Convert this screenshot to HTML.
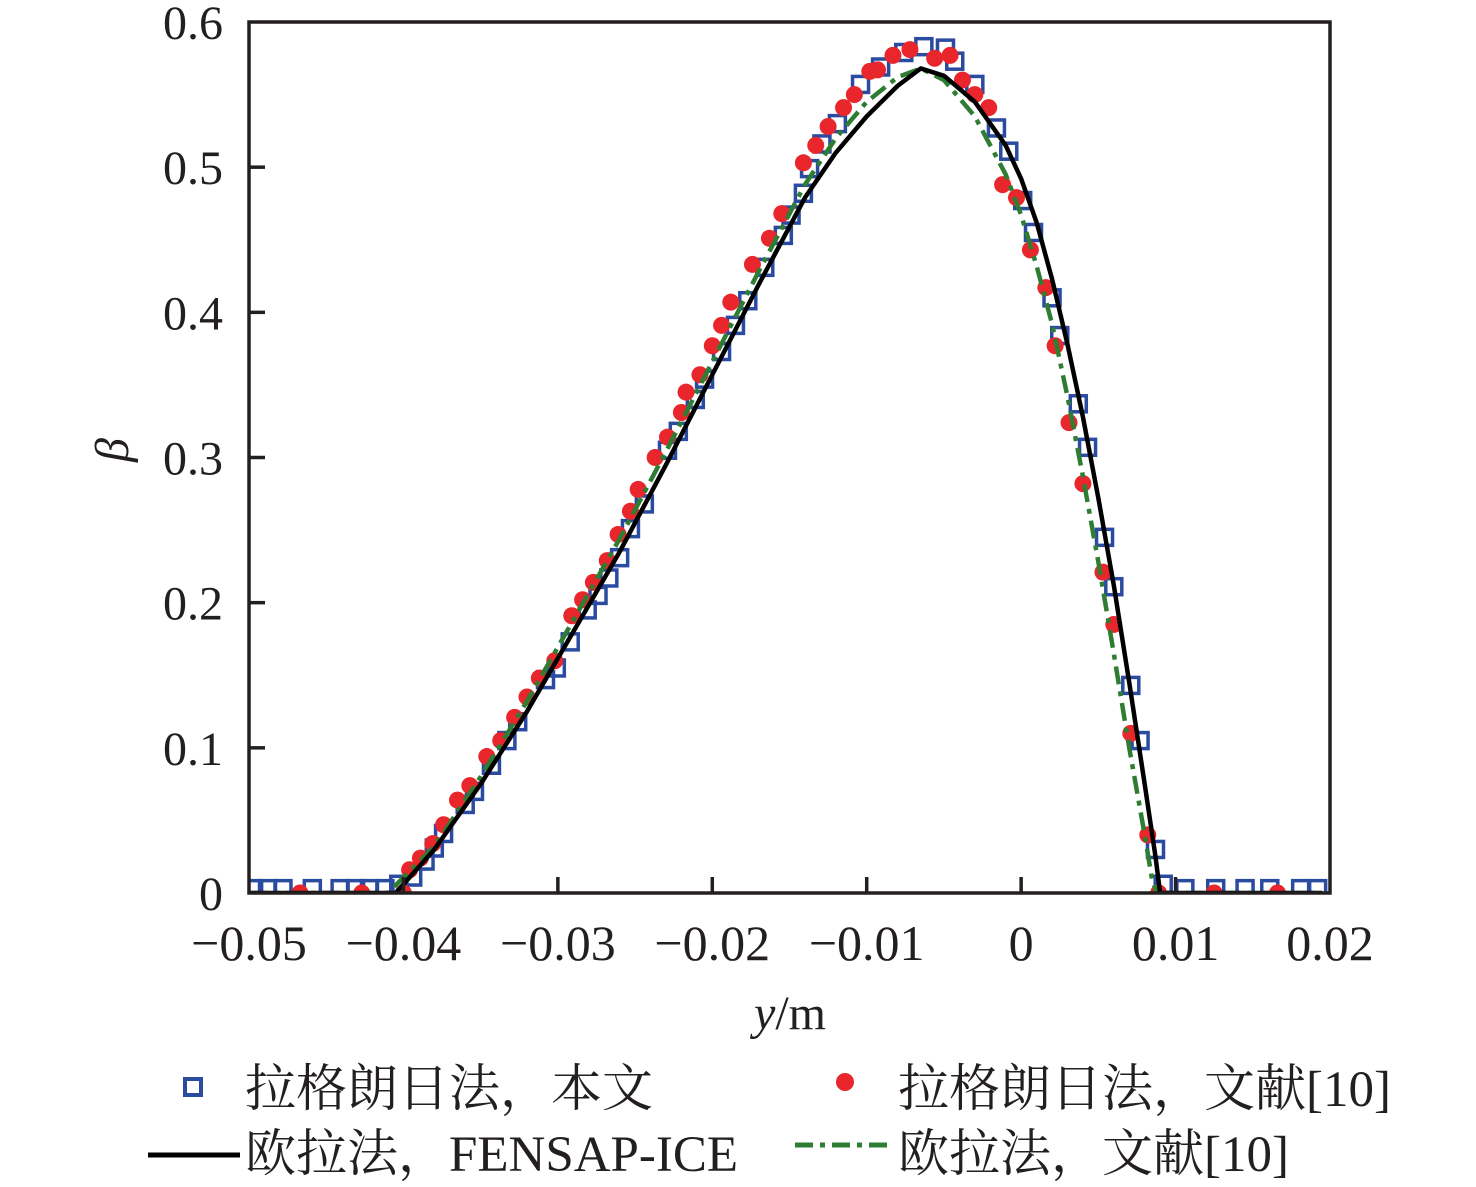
<!DOCTYPE html>
<html><head><meta charset="utf-8"><style>
html,body{margin:0;padding:0;background:#fff;}
svg{display:block;}
text{font-family:"Liberation Serif","Noto Serif CJK SC",serif;fill:#231f20;}
</style></head><body>
<svg id="chart" width="1476" height="1187" viewBox="0 0 1476 1187">
<defs><clipPath id="pc"><rect x="249" y="22" width="1081" height="871"/></clipPath></defs>
<g id="series" clip-path="url(#pc)"></g>
<g id="axes"></g>
<g id="legend">
  <rect x="185" y="1079" width="16" height="16" fill="none" stroke="#2b4ba0" stroke-width="4"/>
  <text x="245" y="1106" font-size="51">拉格朗日法，本文</text>
  <circle cx="845" cy="1082" r="9" fill="#e8262b"/>
  <text x="898" y="1106" font-size="51">拉格朗日法，文献[10]</text>
  <line x1="148" y1="1155" x2="240" y2="1155" stroke="#000" stroke-width="5"/>
  <text x="245" y="1171" font-size="51">欧拉法，FENSAP-ICE</text>
  <line x1="795" y1="1145" x2="893" y2="1145" stroke="#2e7d32" stroke-width="5" stroke-dasharray="18 7 5 7"/>
  <text x="898" y="1171" font-size="51">欧拉法，文献[10]</text>
</g>
</svg>
<script>
const xTicks=[-0.05,-0.04,-0.03,-0.02,-0.01,0,0.01,0.02];
const xTickLabels=["−0.05","−0.04","−0.03","−0.02","−0.01","0","0.01","0.02"];
const yTicks=[0,0.1,0.2,0.3,0.4,0.5,0.6];
const yTickLabels=["0","0.1","0.2","0.3","0.4","0.5","0.6"];
const blackX=[-0.05,-0.0405,-0.038,-0.035,-0.032,-0.029,-0.026,-0.023,-0.020,-0.017,-0.014,-0.012,-0.010,-0.008,-0.0065,-0.005,-0.003,-0.001,0,0.001,0.002,0.003,0.004,0.005,0.006,0.007,0.008,0.0087,0.0090,0.0195];
const blackY=[0,0,0.03,0.075,0.125,0.18,0.235,0.295,0.357,0.419,0.479,0.51,0.535,0.556,0.568,0.563,0.545,0.515,0.492,0.462,0.423,0.378,0.328,0.272,0.212,0.145,0.075,0.025,0,0];
const greenX=[-0.05,-0.041,-0.038,-0.035,-0.032,-0.029,-0.026,-0.023,-0.020,-0.017,-0.014,-0.012,-0.010,-0.008,-0.0065,-0.005,-0.003,-0.001,0,0.001,0.002,0.003,0.004,0.005,0.006,0.007,0.008,0.0085,0.0088,0.0195];
const greenY=[0,0,0.032,0.08,0.132,0.188,0.244,0.304,0.366,0.428,0.488,0.52,0.545,0.562,0.568,0.56,0.535,0.495,0.467,0.432,0.392,0.342,0.287,0.228,0.165,0.10,0.04,0.008,0,0];
const squareX=[-0.0497,-0.0488,-0.0478,-0.0459,-0.0441,-0.0431,-0.0422,-0.0412,-0.0403,-0.0394,-0.0386,-0.0380,-0.0374,-0.0360,-0.0354,-0.0343,-0.0333,-0.0326,-0.0308,-0.0301,-0.0292,-0.0281,-0.0274,-0.0267,-0.0260,-0.0253,-0.0244,-0.0229,-0.0222,-0.0211,-0.0205,-0.0194,-0.0185,-0.0177,-0.0166,-0.0154,-0.0149,-0.0141,-0.0137,-0.0129,-0.0119,-0.0104,-0.0091,-0.0076,-0.0063,-0.0049,-0.0043,-0.0030,-0.0016,-0.0008,0.0001,0.0008,0.0020,0.0025,0.0037,0.0043,0.0054,0.0060,0.0071,0.0077,0.0087,0.0092,0.0106,0.0126,0.0145,0.0161,0.0181,0.0192];
const squareY=[0.003,0.003,0.003,0.003,0.003,0.003,0.003,0.003,0.006,0.011,0.022,0.031,0.041,0.061,0.070,0.088,0.105,0.118,0.147,0.155,0.173,0.195,0.205,0.217,0.231,0.251,0.268,0.305,0.318,0.340,0.354,0.373,0.391,0.408,0.431,0.453,0.467,0.482,0.499,0.516,0.530,0.557,0.569,0.579,0.583,0.582,0.573,0.557,0.527,0.511,0.477,0.455,0.410,0.384,0.337,0.307,0.245,0.211,0.143,0.105,0.030,0.006,0.003,0.003,0.003,0.003,0.003,0.003];
const dotX=[-0.0467,-0.0427,-0.0400,-0.0396,-0.0389,-0.0381,-0.0374,-0.0365,-0.0357,-0.0346,-0.0337,-0.0328,-0.0320,-0.0312,-0.0302,-0.0291,-0.0284,-0.0277,-0.0268,-0.0261,-0.0253,-0.0248,-0.0237,-0.0229,-0.0220,-0.0217,-0.0208,-0.0200,-0.0194,-0.0188,-0.0174,-0.0163,-0.0155,-0.0141,-0.0133,-0.0125,-0.0115,-0.0108,-0.0098,-0.0093,-0.0083,-0.0072,-0.0056,-0.0046,-0.0038,-0.0030,-0.0021,-0.0012,-0.0003,0.0006,0.0016,0.0022,0.0031,0.0040,0.0053,0.0060,0.0071,0.0082,0.0089,0.0125,0.0166];
const dotY=[0,0,0,0.016,0.024,0.034,0.047,0.064,0.074,0.094,0.105,0.121,0.135,0.148,0.160,0.191,0.202,0.214,0.229,0.247,0.263,0.278,0.300,0.314,0.331,0.345,0.357,0.377,0.391,0.407,0.433,0.451,0.468,0.503,0.515,0.528,0.541,0.550,0.566,0.567,0.577,0.581,0.575,0.577,0.560,0.550,0.541,0.488,0.479,0.443,0.417,0.377,0.324,0.282,0.221,0.185,0.110,0.040,0,0,0];

const NS="http://www.w3.org/2000/svg";
const X0=249,X1=1330,Y0=893,Y1=22;
function sx(v){return X0+(v+0.05)/0.07*(X1-X0);}
function sy(v){return Y0-v/0.6*(Y0-Y1);}
function mk(tag,attrs,parent){const e=document.createElementNS(NS,tag);for(const k in attrs)e.setAttribute(k,attrs[k]);parent.appendChild(e);return e;}
const S=document.getElementById('series'),A=document.getElementById('axes');

squareX.forEach((x,i)=>{
  const r=mk('rect',{x:sx(x)-8,y:sy(squareY[i])-8,width:16,height:16,fill:'none',stroke:'#2b4ba0','stroke-width':3.5},S);
  
  
});
dotX.forEach((x,i)=>{
  const c=mk('circle',{cx:sx(x),cy:sy(dotY[i]),r:8.5,fill:'#e8262b'},S);
  
  
});
const gp=mk('polyline',{points:greenX.map((x,i)=>sx(x)+','+sy(greenY[i])).join(' '),fill:'none',stroke:'#2e7d32','stroke-width':4.5,'stroke-dasharray':'18 7 5 7','stroke-linejoin':'round'},S);


const bp=mk('polyline',{points:blackX.map((x,i)=>sx(x)+','+sy(blackY[i])).join(' '),fill:'none',stroke:'#000','stroke-width':4.5,'stroke-linejoin':'round'},S);



const fr=mk('rect',{x:X0,y:Y1,width:X1-X0,height:Y0-Y1,fill:'none',stroke:'#231f20','stroke-width':3.5},A);


xTicks.forEach((v,i)=>{
  const x=sx(v);
  if(i>0&&i<xTicks.length-1){const l=mk('line',{x1:x,y1:Y0,x2:x,y2:Y0-16,stroke:'#231f20','stroke-width':3.5},A);
  
  }
  const t=mk('text',{x:x,y:960,'font-size':50,'text-anchor':'middle'},A);t.textContent=xTickLabels[i];
  
  
});
yTicks.forEach((v,i)=>{
  const y=sy(v);
  if(i>0&&i<yTicks.length-1){const l=mk('line',{x1:X0,y1:y,x2:X0+16,y2:y,stroke:'#231f20','stroke-width':3.5},A);
  
  }
  const t=mk('text',{x:223,y:y+17,'font-size':48,'text-anchor':'end'},A);t.textContent=yTickLabels[i];
  
  
});
const xt=mk('text',{x:790,y:1029,'font-size':48,'text-anchor':'middle'},A);
xt.innerHTML='<tspan font-style="italic">y</tspan>/m';


const yt=mk('text',{x:0,y:0,'font-size':48,'font-style':'italic','text-anchor':'middle',transform:'translate(128,450) rotate(-90)'},A);
yt.textContent='β';


</script>
</body></html>
